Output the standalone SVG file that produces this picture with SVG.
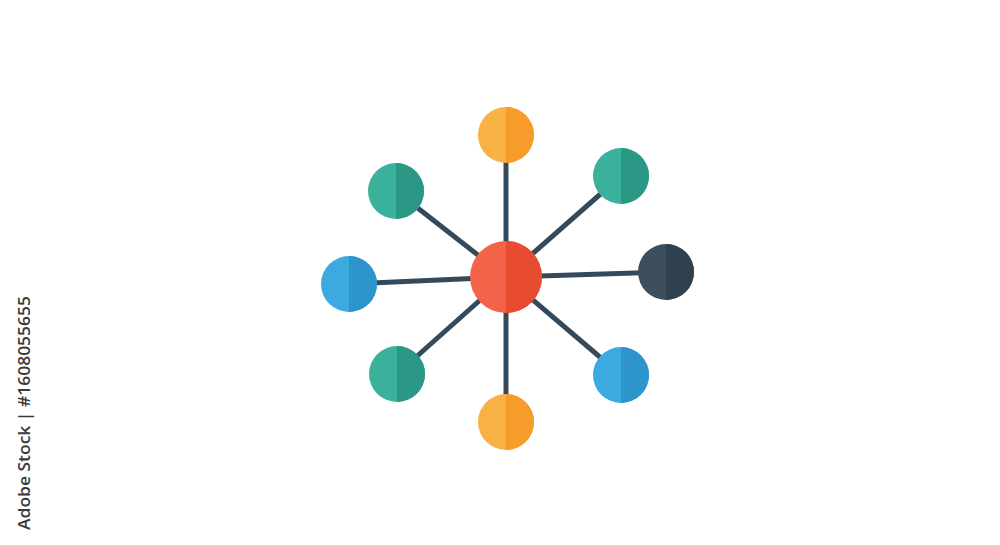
<svg xmlns="http://www.w3.org/2000/svg" width="1000" height="545" viewBox="0 0 1000 545">
<style>
.edge{stroke:#34495a;stroke-width:5;stroke-linecap:butt}
.credit{font-family:"Open Sans","Liberation Sans",sans-serif;font-size:17px;font-weight:600;fill:#3a3a3a}
</style>
<defs>
<clipPath id="rh"><rect x="0" y="-50" width="50" height="100"/></clipPath>
</defs>
<rect width="1000" height="545" fill="#ffffff"/>
<g id="connectors">
<line class="edge" x1="506" y1="277" x2="506" y2="135"/>
<line class="edge" x1="506" y1="277" x2="621" y2="176"/>
<line class="edge" x1="506" y1="277" x2="666" y2="272"/>
<line class="edge" x1="506" y1="277" x2="621" y2="375"/>
<line class="edge" x1="506" y1="277" x2="506" y2="422"/>
<line class="edge" x1="506" y1="277" x2="397" y2="374"/>
<line class="edge" x1="506" y1="277" x2="349" y2="284"/>
<line class="edge" x1="506" y1="277" x2="396" y2="191"/>
</g>
<g id="center" transform="translate(506,277)">
<circle r="36" fill="#f2634a"/>
<circle r="36" fill="#e84c30" clip-path="url(#rh)"/>
</g>
<g id="n-top" transform="translate(506,135)">
<circle r="28" fill="#f8b142"/>
<circle r="28" fill="#f59c2b" clip-path="url(#rh)"/>
</g>
<g id="n-topright" transform="translate(621,176)">
<circle r="28" fill="#3bb09b"/>
<circle r="28" fill="#2a9884" clip-path="url(#rh)"/>
</g>
<g id="n-right" transform="translate(666,272)">
<circle r="28" fill="#3b4f5f"/>
<circle r="28" fill="#2f404f" clip-path="url(#rh)"/>
</g>
<g id="n-bottomright" transform="translate(621,375)">
<circle r="28" fill="#3caadf"/>
<circle r="28" fill="#2e95cc" clip-path="url(#rh)"/>
</g>
<g id="n-bottom" transform="translate(506,422)">
<circle r="28" fill="#f8b142"/>
<circle r="28" fill="#f59c2b" clip-path="url(#rh)"/>
</g>
<g id="n-bottomleft" transform="translate(397,374)">
<circle r="28" fill="#3bb09b"/>
<circle r="28" fill="#2a9884" clip-path="url(#rh)"/>
</g>
<g id="n-left" transform="translate(349,284)">
<circle r="28" fill="#3caadf"/>
<circle r="28" fill="#2e95cc" clip-path="url(#rh)"/>
</g>
<g id="n-topleft" transform="translate(396,191)">
<circle r="28" fill="#3bb09b"/>
<circle r="28" fill="#2a9884" clip-path="url(#rh)"/>
</g>
<text class="credit" transform="translate(30,530) rotate(-90)" textLength="234" lengthAdjust="spacingAndGlyphs">Adobe Stock | #1608055655</text>
</svg>
